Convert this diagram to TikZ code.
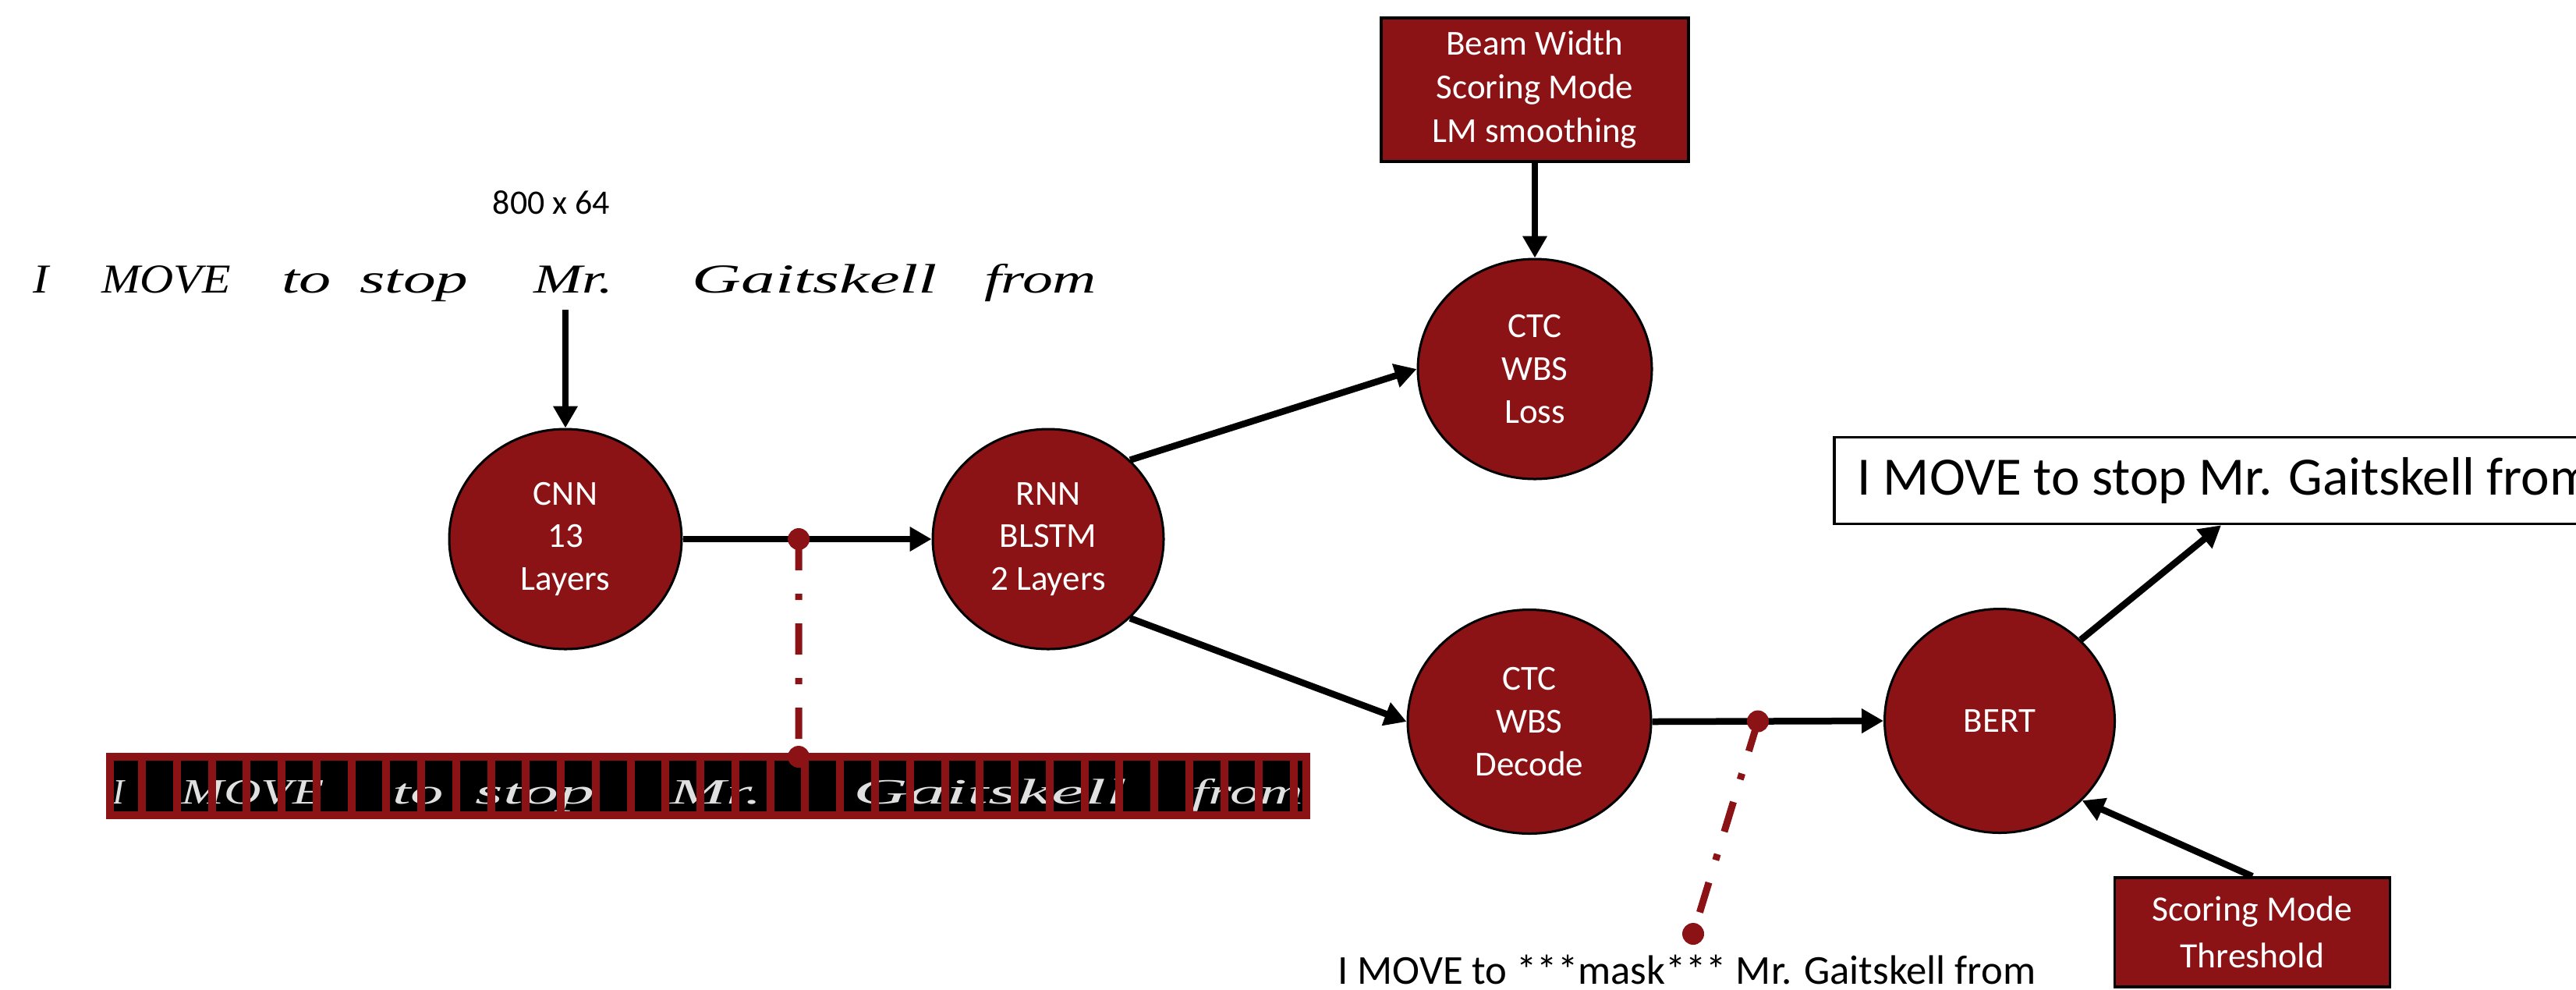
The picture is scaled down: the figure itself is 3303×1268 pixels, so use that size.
\documentclass[tikz,border=0pt]{standalone}
\usepackage{fontspec}
\setmainfont{Carlito}
\newfontfamily\handfont{Liberation Serif}
\usepackage{graphicx}
\usetikzlibrary{arrows.meta,calc,shapes.geometric}
\definecolor{dred}{RGB}{139,19,21}
\tikzset{
  blob/.style={ellipse, fill=dred, draw=black, line width=0.3mm, text=white, align=center,
    inner sep=0pt, font=\fontsize{12.8}{15.6}\selectfont},
  parambox/.style={rectangle, fill=dred, draw=black, line width=0.35mm, text=white, align=center,
    inner sep=0pt},
  conn/.style={line width=0.85mm, -{Triangle[length=2.8mm,width=3.0mm]}},
  tap/.style={draw=dred, line width=0.9mm, dash pattern=on 4mm off 3mm on 0.8mm off 3mm},
  tapdot/.style={circle, fill=dred, inner sep=0pt, minimum size=2.8mm},
  hand/.style={anchor=base, inner sep=0pt, font=\handfont\itshape\fontsize{15}{18}\selectfont},
  shand/.style={anchor=base, inner sep=0pt, text=black!12, font=\handfont\itshape\fontsize{13}{16}\selectfont},
}
\begin{document}
\begin{tikzpicture}[x=0.1mm,y=-0.1mm]
\useasboundingbox (0,0) rectangle (3303,1268);

% handwritten input line
\node[hand] (hw1) at (53,375) {\resizebox{2mm}{\height}{I}};
\node[hand] (hw2) at (213,375) {\resizebox{16.6mm}{\height}{MOVE}};
\node[hand] (hw3) at (393,375) {\resizebox{6.4mm}{\height}{to}};
\node[hand] (hw4) at (531,375) {\resizebox{13.9mm}{\height}{stop}};
\node[hand] (hw5) at (735,375) {\resizebox{10.2mm}{\height}{Mr.}};
\node[hand] (hw6) at (1045,375) {\resizebox{31.4mm}{\height}{Gaitskell}};
\node[hand] (hw7) at (1334,375) {\resizebox{14.4mm}{\height}{from}};
\node[font=\fontsize{12.5}{15}\selectfont] (size) at (707,260) {800 x 64};

% feature strip
\fill[dred] (136,965) rectangle (1680,1050);
\fill[black] (146,975) rectangle (1670,1040);
\begin{scope}
  \clip (146,975) rectangle (1670,1040);
  \node[shand] (s1) at (152,1030) {\resizebox{1.5mm}{\height}{I}};
  \node[shand] (s2) at (324,1030) {\resizebox{18.3mm}{\height}{MOVE}};
  \node[shand] (s3) at (536,1030) {\resizebox{6.6mm}{\height}{to}};
  \node[shand] (s4) at (686,1030) {\resizebox{15.3mm}{\height}{stop}};
  \node[shand] (s5) at (918,1030) {\resizebox{11.7mm}{\height}{Mr.}};
  \node[shand] (s6) at (1270,1030) {\resizebox{35.1mm}{\height}{Gaitskell}};
  \node[shand] (s7) at (1600,1030) {\resizebox{14.3mm}{\height}{from}};
\end{scope}
\foreach \k in {0,...,33} {
  \fill[dred] ({177+44.76*\k},975) rectangle ++(10,65);
}

% main nodes
\node[blob, minimum width=29.8mm, minimum height=28.2mm] (cnn) at (725,691) {CNN\\13\\Layers};
\node[blob, minimum width=29.6mm, minimum height=28.2mm] (rnn) at (1344,691) {RNN\\BLSTM\\2 Layers};
\node[blob, minimum width=30.0mm, minimum height=28.2mm] (loss) at (1968,473) {CTC\\WBS\\Loss};
\node[blob, minimum width=31.2mm, minimum height=28.7mm] (decode) at (1961,925) {CTC\\WBS\\Decode};
\node[blob, minimum width=29.5mm, minimum height=28.7mm] (bert) at (2564,924) {BERT};

\node[parambox, minimum width=39.4mm, minimum height=18.4mm, font=\fontsize{12.8}{15.9}\selectfont] (beam) at (1968,115) {Beam Width\\Scoring Mode\\LM smoothing};
\node[parambox, minimum width=35.3mm, minimum height=14.0mm, font=\fontsize{13}{17}\selectfont] (thr) at (2888,1195) {Scoring Mode\\Threshold};

\node[draw=black, line width=0.35mm, fill=white, anchor=west, inner xsep=3mm, inner ysep=0pt,
  minimum height=11.1mm, font=\fontsize{19.7}{23}\selectfont] (out) at (2350,616) {I MOVE to stop Mr. Gaitskell from};

\node[inner sep=0pt, font=\fontsize{15}{18}\selectfont] (mask) at (2163,1243) {I MOVE to ***mask*** Mr. Gaitskell from};

% connectors
\coordinate (hwend) at (725,397);
\coordinate (outpt) at ($(out.south west)+(498,0)$);
\draw[conn] (hwend) -- (cnn.north);
\draw[conn] (cnn.east) -- (rnn.west);
\draw[conn] (rnn.44) -- (loss.west);
\draw[conn] (rnn.-44) -- (decode.west);
\draw[conn] (beam.south) -- (loss.north);
\draw[conn] (decode.east) -- (bert.west);
\draw[conn] (bert.45) -- (outpt);
\draw[conn] (thr.north) -- (bert.-44);

% taps
\coordinate (tapA) at ($(cnn.east)!0.466!(rnn.west)$);
\coordinate (tapAend) at (1024,970);
\draw[tap] (tapA) -- (tapAend);
\node[tapdot] (dotA) at (tapA) {};
\node[tapdot] (dotAb) at (tapAend) {};

\coordinate (tapB) at ($(decode.east)!0.457!(bert.west)$);
\coordinate (tapBend) at (2171,1197);
\draw[tap] (tapB) -- (tapBend);
\node[tapdot] (dotB) at (tapB) {};
\node[tapdot] (dotBb) at (tapBend) {};
\end{tikzpicture}
\end{document}
